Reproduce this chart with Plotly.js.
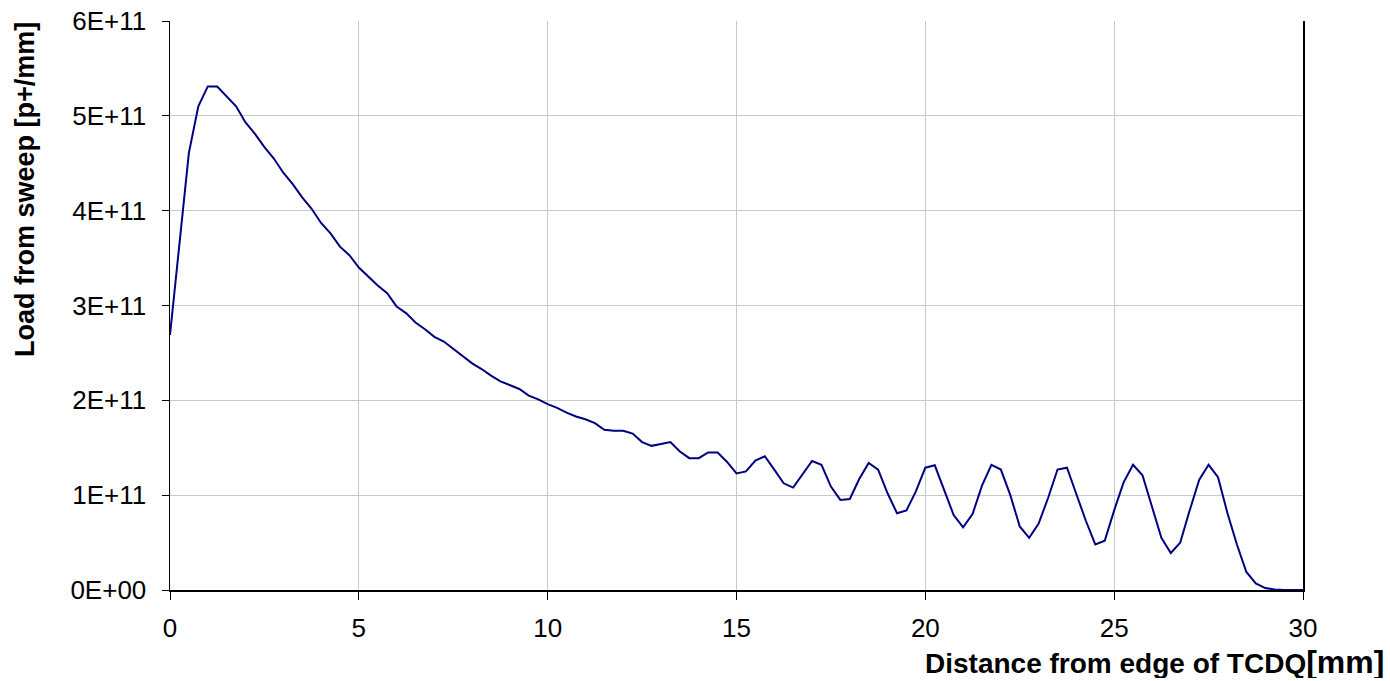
<!DOCTYPE html>
<html>
<head>
<meta charset="utf-8">
<script src="https://cdn.plot.ly/plotly-3.0.1.min.js"></script>
<style>
  html, body { margin: 0; padding: 0; background: #ffffff; }
  #chart { width: 1390px; height: 681px; }
</style>
</head>
<body>
<div id="chart"></div>
<script>
// Distance from edge of TCDQ [mm]
const distance = [
  0, 0.25, 0.5, 0.75, 1, 1.25, 1.5, 1.75, 2, 2.25, 2.5, 2.75,
  3, 3.25, 3.5, 3.75, 4, 4.25, 4.5, 4.75, 5, 5.25, 5.5, 5.75,
  6, 6.25, 6.5, 6.75, 7, 7.25, 7.5, 7.75, 8, 8.25, 8.5, 8.75,
  9, 9.25, 9.5, 9.75, 10, 10.25, 10.5, 10.75, 11, 11.25, 11.5, 11.75,
  12, 12.25, 12.5, 12.75, 13, 13.25, 13.5, 13.75, 14, 14.25, 14.5, 14.75,
  15, 15.25, 15.5, 15.75, 16, 16.25, 16.5, 16.75, 17, 17.25, 17.5, 17.75,
  18, 18.25, 18.5, 18.75, 19, 19.25, 19.5, 19.75, 20, 20.25, 20.5, 20.75,
  21, 21.25, 21.5, 21.75, 22, 22.25, 22.5, 22.75, 23, 23.25, 23.5, 23.75,
  24, 24.25, 24.5, 24.75, 25, 25.25, 25.5, 25.75, 26, 26.25, 26.5, 26.75,
  27, 27.25, 27.5, 27.75, 28, 28.25, 28.5, 28.75, 29, 29.25, 29.5, 29.75, 30
];

// Load from sweep [p+/mm]
const load = [
  2.69e11, 3.65e11, 4.61e11, 5.10e11, 5.31e11, 5.31e11, 5.21e11, 5.10e11, 4.93e11, 4.81e11, 4.67e11, 4.55e11,
  4.40e11, 4.28e11, 4.14e11, 4.02e11, 3.87e11, 3.76e11, 3.62e11, 3.53e11, 3.40e11, 3.30e11, 3.21e11, 3.13e11,
  2.99e11, 2.92e11, 2.82e11, 2.75e11, 2.67e11, 2.62e11, 2.54e11, 2.47e11, 2.39e11, 2.33e11, 2.26e11, 2.20e11,
  2.16e11, 2.12e11, 2.05e11, 2.01e11, 1.96e11, 1.92e11, 1.87e11, 1.83e11, 1.80e11, 1.76e11, 1.69e11, 1.68e11,
  1.68e11, 1.65e11, 1.56e11, 1.52e11, 1.54e11, 1.56e11, 1.46e11, 1.39e11, 1.39e11, 1.45e11, 1.45e11, 1.35e11,
  1.23e11, 1.25e11, 1.365e11, 1.41e11, 1.27e11, 1.125e11, 1.08e11, 1.22e11, 1.36e11, 1.32e11, 1.09e11, 0.95e11,
  0.96e11, 1.17e11, 1.34e11, 1.27e11, 1.02e11, 0.81e11, 0.84e11, 1.04e11, 1.29e11, 1.315e11, 1.055e11, 0.79e11,
  0.66e11, 0.80e11, 1.10e11, 1.32e11, 1.27e11, 1.00e11, 0.67e11, 0.55e11, 0.70e11, 0.97e11, 1.27e11, 1.29e11,
  1.01e11, 0.73e11, 0.48e11, 0.52e11, 0.84e11, 1.135e11, 1.32e11, 1.21e11, 0.88e11, 0.55e11, 0.39e11, 0.50e11,
  0.84e11, 1.16e11, 1.32e11, 1.19e11, 0.81e11, 0.48e11, 0.19e11, 0.07e11, 0.02e11, 0.005e11, 0, 0, 0
];

const yTickValues = [0, 1e11, 2e11, 3e11, 4e11, 5e11, 6e11];
const yTickLabels = ['0E+00', '1E+11', '2E+11', '3E+11', '4E+11', '5E+11', '6E+11'];
const xTickValues = [0, 5, 10, 15, 20, 25, 30];
const xTickLabels = ['0', '5', '10', '15', '20', '25', '30'];

const xTitle = 'Distance from edge of TCDQ';
const xTitleUnit = '[mm]';
const yTitle = 'Load from sweep [p+/mm]';

const FONT = 'Liberation Sans, Arial, sans-serif';

const trace = {
  x: distance,
  y: load,
  type: 'scatter',
  mode: 'lines',
  line: { color: '#000080', width: 2 },
  hoverinfo: 'x+y'
};

const layout = {
  width: 1390,
  height: 681,
  margin: { l: 170, r: 87, t: 21, b: 91 },
  paper_bgcolor: '#ffffff',
  plot_bgcolor: '#ffffff',
  showlegend: false,
  font: { family: FONT, size: 26, color: '#000000' },
  xaxis: {
    range: [0, 30],
    tickmode: 'array',
    tickvals: xTickValues,
    ticktext: xTickLabels,
    showgrid: true,
    gridcolor: '#c8c8c8',
    gridwidth: 1,
    showline: true,
    linecolor: '#000000',
    linewidth: 1.5,
    mirror: false,
    ticks: 'outside',
    ticklen: 8,
    tickcolor: '#000000',
    tickfont: { family: FONT, size: 26, color: '#000000' },
    ticklabelstandoff: 6,
    zeroline: false,
    fixedrange: true
  },
  yaxis: {
    range: [0, 6e11],
    tickmode: 'array',
    tickvals: yTickValues,
    ticktext: yTickLabels,
    showgrid: true,
    gridcolor: '#c8c8c8',
    gridwidth: 1,
    showline: true,
    linecolor: '#000000',
    linewidth: 1.5,
    mirror: true,
    ticks: 'outside',
    ticklen: 7,
    tickcolor: '#000000',
    tickfont: { family: FONT, size: 26, color: '#000000' },
    ticklabelstandoff: 10,
    zeroline: false,
    fixedrange: true
  },
  annotations: [
    {
      xref: 'paper', yref: 'paper',
      x: (1386 - 170) / 1133, y: (590 - 662) / 569,
      xanchor: 'right', yanchor: 'middle',
      height: 32,
      valign: 'middle',
      showarrow: false,
      text: '<b>' + xTitle + '</b><b><span style="font-size:32px">' + xTitleUnit + '</span></b>',
      font: { family: FONT, size: 28, color: '#000000' }
    },
    {
      xref: 'paper', yref: 'paper',
      x: (25 - 170) / 1133, y: (590 - 190) / 569,
      xanchor: 'center', yanchor: 'middle',
      textangle: -90,
      showarrow: false,
      text: '<b>' + yTitle + '</b>',
      font: { family: FONT, size: 27, color: '#000000' }
    }
  ]
};

Plotly.newPlot('chart', [trace], layout, { displayModeBar: false, staticPlot: true });
</script>
</body>
</html>
